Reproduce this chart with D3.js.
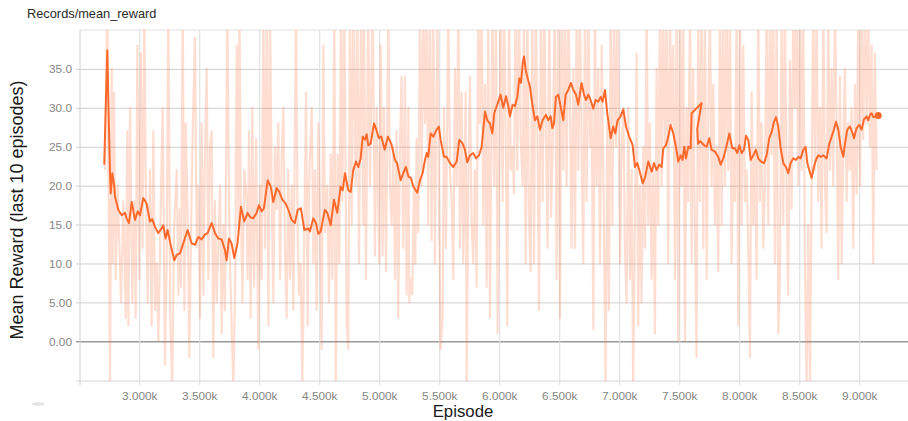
<!DOCTYPE html>
<html>
<head>
<meta charset="utf-8">
<script src="https://cdn.jsdelivr.net/npm/d3@7"></script>
<style>
	html, body { margin: 0; padding: 0; background: #fff; }
	svg { display: block; }
	text { font-family: "Liberation Sans", Arial, sans-serif; }
</style>
</head>
<body>
<div id="chart"></div>
<script>
'use strict';

// ----------   Data   --------------------------------- //

const title  = "Records/mean_reward";
const yLabel = "Mean Reward (last 10 episodes)";
const xLabel = "Episode";

const yTicks      = [0, 5, 10, 15, 20, 25, 30, 35];
const yTickLabels = ["0.00", "5.00", "10.0", "15.0", "20.0", "25.0", "30.0", "35.0"];
const xTicks      = [3000, 3500, 4000, 4500, 5000, 5500, 6000, 6500, 7000, 7500, 8000, 8500, 9000];
const xTickLabels = ["3.000k", "3.500k", "4.000k", "4.500k", "5.000k", "5.500k", "6.000k",
	"6.500k", "7.000k", "7.500k", "8.000k", "8.500k", "9.000k"];

// raw episode rewards [episode, value] (44 / -6 = beyond the clipped frame)
const rawEarly = [
	[2714,22],[2734,44],[2756,-6],[2770,35],[2778,10],[2789,32],[2803,8],[2820,20],[2831,14],[2848,5],
	[2867,18],[2887,3],[2900,27],[2909,2],[2923,30],[2942,5],[2959,18],[2970,3],[2984,38],[3000,8],
	[3014,37],[3028,12],[3042,44],[3053,22],[3070,5],[3089,22],[3103,2],[3117,27],[3131,4],[3145,10],
	[3159,0],[3181,19],[3195,30],[3214,-3],[3228,10],[3242,44],[3259,2],[3275,-6],[3289,14],[3312,22],
	[3326,6],[3339,17],[3348,7],[3362,44],[3376,4],[3387,28],[3403,16],[3417,-2],[3437,20],[3450,30],
	[3464,39],[3478,12],[3492,20],[3506,3],[3520,28],[3534,6],[3548,25],[3562,35],[3576,8],[3589,25],
	[3603,27],[3617,-2],[3631,18],[3645,5],[3673,20],[3687,1],[3701,15],[3714,4],[3734,44],[3748,17],
	[3756,10],[3770,2],[3784,-6],[3798,6],[3812,38],[3826,15],[3834,44],[3845,20],[3859,5],[3876,22],
	[3895,18],[3903,8],[3914,27],[3928,3],[3942,30],[3956,7],[3973,26],[3992,-1],[4006,20],[4020,8],
	[4034,44],[4048,12],[4062,44],[4076,2],[4089,44],[4103,20],[4117,5],[4131,25],[4145,17],[4159,28],
	[4173,8],[4187,24],[4201,30],[4214,12],[4228,3],[4242,22],[4256,8],[4270,20],[4284,4],[4306,44],
	[4320,14],[4331,6],[4345,10],[4359,-6],[4376,15],[4390,32],[4403,2],[4414,20],[4437,30],[4451,10],
	[4464,22],[4478,4],[4492,28],[4506,15],[4520,-1],[4534,38],[4548,14],[4567,20],[4581,5],[4595,24],
	[4609,8],[4626,44],[4637,-6],[4653,24],[4667,10],[4681,44],[4692,18],[4709,44],[4728,2],[4742,-1],
	[4756,44],[4770,15],[4784,44],[4803,20],[4817,44],[4831,10],[4848,44],[4867,15]
];

const rawMid = [
	[4872,44],[4889,8],[4908,44],[4922,20],[4945,44],[4964,11],[4978,30],[5000,10],[5011,38],[5028,11],
	[5039,30],[5056,9],[5075,44],[5089,20],[5103,15],[5117,25],[5131,8],[5145,27],[5158,3],[5172,25],
	[5186,34],[5200,12],[5214,34],[5228,6],[5242,30],[5250,5],[5261,8],[5275,6],[5289,20],[5300,10],
	[5311,26],[5325,14],[5339,44],[5353,20],[5367,44],[5381,28],[5395,44],[5408,15],[5422,44],[5436,13],
	[5450,44],[5464,10],[5484,44],[5497,20],[5511,-1],[5528,3],[5539,30],[5556,12],[5575,44],[5589,22],
	[5603,18],[5617,8],[5631,35],[5645,20],[5659,44],[5672,12],[5686,32],[5700,10],[5720,32],[5728,-6],
	[5742,20],[5756,34],[5770,15],[5783,10],[5797,22],[5811,7],[5825,44],[5839,28],[5853,44],[5867,15],
	[5881,33],[5895,7],[5908,44],[5922,3],[5942,44],[5958,20],[5972,44],[5986,1],[6000,25],[6011,44],
	[6028,18],[6039,44],[6053,28],[6067,2],[6081,44],[6095,22],[6111,25],[6122,19],[6136,44],[6150,22],
	[6164,44],[6178,26],[6195,20],[6206,44],[6220,10],[6234,44],[6247,16],[6261,9],[6275,44],[6289,10],
	[6303,44],[6317,28],[6331,4],[6347,44],[6361,18],[6375,44],[6389,26],[6403,12],[6417,44],[6431,16],
	[6445,25],[6464,44],[6478,8],[6492,44],[6506,3],[6520,44],[6534,22],[6547,44],[6561,20],[6575,44],
	[6589,30],[6603,12],[6617,35],[6631,12],[6645,44],[6659,22],[6672,44],[6686,25],[6700,10],[6714,44],
	[6728,18],[6742,44],[6756,25],[6770,30],[6784,1.5],[6797,44],[6811,20],[6825,35],[6839,10],[6853,38],
	[6867,22],[6886,-6],[6900,28],[6914,4],[6928,44],[6942,15],[6956,44],[6972,25],[6986,44],[7006,10],
	[7020,25],[7034,30],[7047,12],[7061,5]
];

const rawLate = [
	[7075,30],[7089,8],[7103,22],[7116,-6],[7130,15],[7144,37],[7158,2],[7172,20],[7186,5],[7200,25],
	[7214,12],[7228,44],[7241,15],[7255,28],[7269,8],[7283,22],[7297,1],[7311,35],[7325,15],[7339,44],
	[7353,20],[7366,44],[7380,25],[7394,44],[7408,10],[7422,44],[7436,28],[7450,38],[7464,8],[7478,44],
	[7491,0],[7505,44],[7519,20],[7533,44],[7547,0],[7561,30],[7575,18],[7589,44],[7603,10],[7616,35],
	[7630,15],[7644,-2],[7658,44],[7672,18],[7686,44],[7700,12],[7714,44],[7728,8],[7741,28],[7755,44],
	[7769,20],[7783,33],[7797,15],[7811,25],[7825,9],[7839,44],[7853,15],[7866,44],[7880,20],[7894,44],
	[7908,22],[7922,44],[7936,10],[7950,25],[7964,18],[7978,44],[7992,2],[8005,44],[8019,15],[8033,38],
	[8047,18],[8061,22],[8075,12],[8089,-2],[8103,32],[8117,15],[8130,25],[8144,8],[8158,44],[8172,18],
	[8186,28],[8200,12],[8214,20],[8228,44],[8242,15],[8255,44],[8269,24],[8283,44],[8297,10],[8311,44],
	[8325,1],[8339,8],[8353,44],[8366,15],[8380,44],[8394,20],[8408,6],[8422,36],[8436,17],[8450,44],
	[8464,30],[8478,44],[8491,20],[8505,44],[8519,22],[8533,44],[8547,10],[8561,-6],[8575,15],[8589,-6],
	[8603,20],[8616,44],[8630,22],[8644,44],[8658,18],[8672,30],[8686,12],[8700,44],[8714,20],[8728,14],
	[8741,44],[8755,22],[8769,35],[8783,20],[8797,44],[8811,28],[8825,8],[8839,34],[8853,10],[8866,25],
	[8880,35],[8894,18],[8908,28],[8922,22],[8936,30],[8950,12],[8964,33],[8978,19],[8992,44],[9005,20],
	[9019,44],[9033,26],[9047,44],[9061,28],[9075,44],[9089,25],[9103,38],[9116,10],[9130,37],[9144,22]
];

// smoothed curve [episode, value]
const smoothEarly = [
	[2708,22.7],[2733,37.4],[2756,21.6],[2762,19.0],[2775,21.6],[2792,19.9],[2798,18.6],[2825,16.9],
	[2853,16.2],[2881,16.5],[2894,15.8],[2914,15.2],[2937,17.9],[2964,15.6],[2987,16.7],[3006,16.2],
	[3033,18.4],[3061,17.7],[3089,15.4],[3108,15.7],[3131,14.7],[3158,13.9],[3186,14.5],[3200,14.9],
	[3219,13.2],[3236,14.3],[3264,12.2],[3292,10.4],[3311,11.1],[3339,11.3],[3367,12.6],[3403,14.3],
	[3436,12.6],[3464,12.4],[3492,13.4],[3519,13.1],[3547,13.7],[3569,13.9],[3603,15.2],[3631,13.9],
	[3658,13.2],[3686,13.1],[3714,11.7],[3728,10.4],[3747,13.2],[3769,12.6],[3792,10.7],[3819,12.6],
	[3847,17.3],[3875,15.4],[3903,16.5],[3922,16.0],[3950,15.8],[3978,16.5],[3997,17.5],[4020,16.7],
	[4039,17.1],[4070,20.7],[4095,19.9],[4117,17.9],[4145,19.7],[4167,19.2],[4192,18.2],[4220,17.7],
	[4242,16.9],[4270,15.6],[4297,15.2],[4320,16.9],[4347,17.1],[4375,14.3],[4408,14.5],[4422,14.1],
	[4450,15.8],[4472,15.2],[4492,13.8],[4511,14.1],[4547,16.9],[4567,16.5],[4595,14.9],[4622,18.2],
	[4650,16.5],[4678,19.9],[4695,19.4],[4714,21.6],[4742,19.4],[4762,19.2],[4783,22.0],[4806,23.1],
	[4825,22.4],[4845,23.5]
];

const smoothMid = [
	[4862,26.3],[4881,25.9],[4895,26.6],[4908,25.2],[4928,25.4],[4956,28.0],[4975,27.2],[4997,26.1],
	[5017,26.3],[5045,24.6],[5072,26.3],[5100,25.4],[5131,23.3],[5148,22.9],[5178,20.7],[5200,21.6],
	[5222,22.4],[5242,21.2],[5264,21.0],[5283,19.9],[5317,19.1],[5339,20.7],[5361,21.6],[5381,23.3],
	[5395,24.2],[5408,23.7],[5428,26.7],[5450,26.3],[5478,27.2],[5497,27.6],[5511,25.9],[5539,23.7],
	[5561,23.7],[5589,22.9],[5617,22.4],[5645,23.1],[5667,25.9],[5695,25.4],[5714,24.6],[5733,23.0],
	[5756,23.9],[5783,24.2],[5806,23.5],[5831,23.9],[5853,25.0],[5881,29.5],[5900,28.4],[5922,28.0],
	[5942,26.7],[5958,29.3],[5983,30.4],[6011,31.7],[6033,30.0],[6056,31.5],[6075,30.2],[6089,28.9],
	[6111,30.4],[6131,30.2],[6150,31.4],[6167,33.8],[6181,33.2],[6195,35.7],[6206,36.6],[6220,34.9],
	[6233,34.0],[6256,32.7],[6278,30.2],[6297,28.4],[6317,28.9],[6339,27.2],[6361,28.4],[6389,29.1],
	[6408,28.4],[6428,28.9],[6442,27.4],[6456,28.0],[6472,31.4],[6492,31.7],[6511,30.2],[6533,28.4],
	[6553,31.7],[6575,32.3],[6597,33.2],[6617,32.3],[6639,31.7],[6658,30.4],[6686,33.2],[6706,31.7],
	[6722,31.0],[6742,31.7],[6761,31.0],[6783,29.9],[6803,31.0],[6825,30.8],[6845,31.4],[6861,30.8],
	[6881,32.3],[6900,29.3],[6928,26.1],[6950,27.6],[6967,26.7],[6986,28.4],[7011,28.9],[7033,29.8]
];

const smoothLate = [
	[7056,27.6],[7083,26.3],[7111,25.2],[7131,22.4],[7150,22.9],[7167,22.0],[7195,20.3],[7214,21.0],
	[7242,23.1],[7270,21.8],[7289,22.9],[7311,22.0],[7333,22.7],[7353,22.4],[7367,24.8],[7389,25.2],
	[7408,26.3],[7428,27.8],[7450,26.7],[7472,25.0],[7492,23.1],[7511,23.9],[7528,23.3],[7542,25.0],
	[7556,23.5],[7575,25.0],[7595,24.8],[7603,29.3],[7686,30.6],[7650,27.3],[7656,25.4],[7675,25.7],
	[7706,25.2],[7728,25.0],[7750,26.1],[7769,24.6],[7797,24.4],[7825,23.7],[7845,22.7],[7867,23.5],
	[7889,24.8],[7917,26.7],[7942,24.8],[7964,24.8],[7983,24.2],[8000,25.2],[8020,24.2],[8039,24.6],
	[8056,26.4],[8075,25.9],[8095,23.3],[8117,23.9],[8139,24.6],[8158,23.5],[8181,23.1],[8206,22.9],
	[8228,23.9],[8250,26.1],[8270,26.9],[8289,28.2],[8306,28.8],[8325,27.6],[8345,24.8],[8367,22.9],
	[8389,22.4],[8408,21.6],[8428,22.9],[8450,23.5],[8472,23.3],[8492,23.7],[8511,23.5],[8533,24.6],
	[8553,25.0],[8567,22.9],[8583,22.0],[8603,21.0],[8622,22.4],[8639,23.3],[8658,23.9],[8678,23.7],
	[8700,23.9],[8728,23.5],[8750,25.4],[8770,26.3],[8789,27.2],[8806,28.2],[8825,27.2],[8845,25.0],
	[8867,23.7],[8881,25.4],[8900,27.2],[8922,27.6],[8945,26.7],[8956,26.1],[8978,27.4],[9000,27.8],
	[9020,27.2],[9039,28.5],[9061,28.9],[9075,28.4],[9089,29.1],[9103,29.3],[9117,28.8],[9139,28.9],
	[9158,29.0]
];


// ----------   Chart   ------------ //

const drawChart = () =>
{
	const W      = 908;
	const H      = 421;
	const left   = 80;
	const right  = 908;
	const top    = 30;
	const bottom = 381;
	const orange = "#ff6a2c";

	const raw    = rawEarly.concat(rawMid, rawLate);
	const smooth = smoothEarly.concat(smoothMid, smoothLate);

	const x = d3.scaleLinear().domain([2506, 9406]).range([left, right]);
	const y = d3.scaleLinear().domain([-5.1, 40]).range([bottom, top]);

	const svg = d3.select("#chart")
		.append("svg")
		.attr("width", W)
		.attr("height", H);

	svg.append("defs")
		.append("clipPath")
		.attr("id", "plotClip")
		.append("rect")
		.attr("x", left)
		.attr("y", top)
		.attr("width", right - left)
		.attr("height", bottom - top);

	// title
	svg.append("text")
		.attr("x", 27)
		.attr("y", 18)
		.style("font-size", "12.8px")
		.style("fill", "#2a2a2a")
		.text(title);

	// horizontal grid + y tick labels
	const yAxis = d3.axisLeft(y)
		.tickValues(yTicks)
		.tickSize(-(right - left + 4))
		.tickPadding(8)
		.tickFormat((d, i) => yTickLabels[i]);

	svg.append("g")
		.attr("transform", "translate(" + left + ",0)")
		.call(yAxis)
		.call(g => g.select(".domain").remove())
		.call(g => g.selectAll(".tick line")
			.attr("x1", -4)
			.attr("x2", right - left)
			.attr("stroke", d => d === 0 ? "#9a9a9a" : "#d0d0d0")
			.attr("stroke-width", d => d === 0 ? 1.6 : 1))
		.call(g => g.selectAll(".tick text")
			.attr("x", -8)
			.style("font-size", "11.8px")
			.style("font-family", "'Liberation Sans', Arial, sans-serif")
			.style("fill", "#858585"));

	// top frame line
	svg.append("line")
		.attr("x1", left).attr("x2", right)
		.attr("y1", y(40)).attr("y2", y(40))
		.attr("stroke", "#e2e2e2");

	// vertical grid + x tick labels
	const xAxis = d3.axisBottom(x)
		.tickValues(xTicks)
		.tickSize(0)
		.tickPadding(11)
		.tickFormat((d, i) => xTickLabels[i]);

	svg.append("g")
		.attr("transform", "translate(0," + bottom + ")")
		.call(xAxis)
		.call(g => g.select(".domain").remove())
		.call(g => g.selectAll(".tick line")
			.attr("y1", -(bottom - top))
			.attr("y2", 4)
			.attr("stroke", "#dcdcdc"))
		.call(g => g.selectAll(".tick text")
			.style("font-size", "11.8px")
			.style("font-family", "'Liberation Sans', Arial, sans-serif")
			.style("fill", "#858585"));

	// bottom and left frame
	svg.append("line")
		.attr("x1", left - 4).attr("x2", right)
		.attr("y1", bottom).attr("y2", bottom)
		.attr("stroke", "#d6d6d6");

	svg.append("line")
		.attr("x1", left).attr("x2", left)
		.attr("y1", top).attr("y2", bottom + 4)
		.attr("stroke", "#d0d0d0");

	const line = d3.line()
		.x(d => x(d[0]))
		.y(d => y(d[1]));

	const plot = svg.append("g")
		.attr("clip-path", "url(#plotClip)");

	plot.append("path")
		.datum(raw)
		.attr("d", line)
		.attr("fill", "none")
		.attr("stroke", orange)
		.attr("stroke-opacity", 0.22)
		.attr("stroke-width", 2.2)
		.attr("stroke-linejoin", "round");

	plot.append("path")
		.datum(smooth)
		.attr("d", line)
		.attr("fill", "none")
		.attr("stroke", orange)
		.attr("stroke-width", 2)
		.attr("stroke-linejoin", "round");

	const last = smooth[smooth.length - 1];
	plot.append("circle")
		.attr("cx", x(last[0]))
		.attr("cy", y(last[1]))
		.attr("r", 3.5)
		.attr("fill", orange);

	// axis titles
	svg.append("text")
		.attr("transform", "translate(23," + 210 + ") rotate(-90)")
		.attr("text-anchor", "middle")
		.style("font-size", "18px")
		.style("fill", "#1a1a1a")
		.text(yLabel);

	svg.append("text")
		.attr("x", 463)
		.attr("y", 417)
		.attr("text-anchor", "middle")
		.style("font-size", "16.8px")
		.style("fill", "#1a1a1a")
		.text(xLabel);

	// faint toolbar mark bottom left
	svg.append("ellipse")
		.attr("cx", 38)
		.attr("cy", 404)
		.attr("rx", 6.5)
		.attr("ry", 1.8)
		.attr("fill", "#e4e4e4");
};


document.addEventListener("DOMContentLoaded", () =>
{
	drawChart();
}, false);
</script>
</body>
</html>
